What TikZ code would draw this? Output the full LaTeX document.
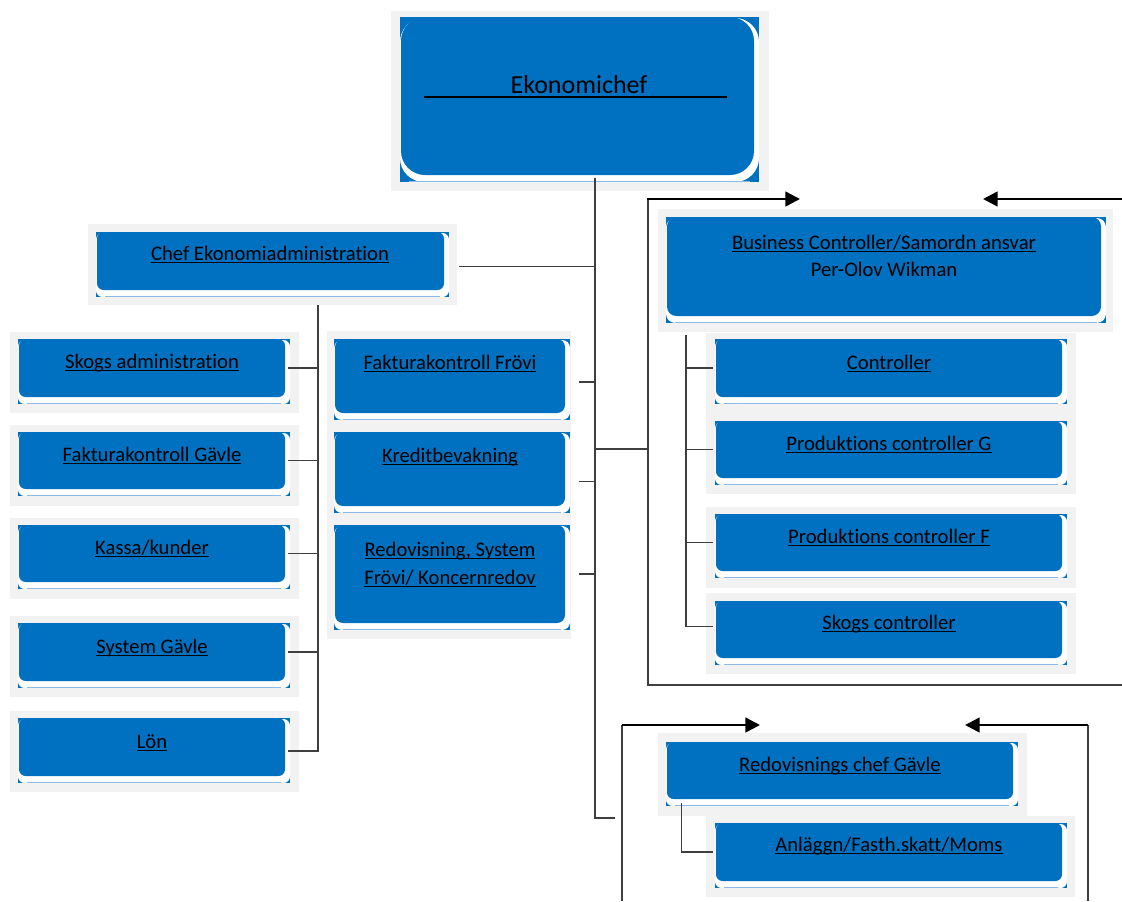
\documentclass[tikz,border=0pt]{standalone}
\usepackage{fontspec}
\setmainfont[Ligatures={NoCommon}]{Carlito}
\usetikzlibrary{arrows.meta,fit}
\definecolor{boxblue}{HTML}{0070C0}
\definecolor{rimblue}{HTML}{8DB9E2}
\definecolor{panelgray}{HTML}{F2F2F2}
\definecolor{linkgray}{HTML}{3F3F3F}
\newcommand{\ulin}[1]{\setbox0=\hbox{#1}\rlap{\rule[-2.4pt]{\wd0}{1pt}}\box0}
% blue unit with its white rim: [radius]{name}{x1}{y1}{x2}{y2}
\newcommand{\unitbox}[6][5pt]{%
  \fill[boxblue] (#3-1,#4) rectangle (#5+5,#6+7);
  \fill[white,rounded corners=#1] (#3-1,#4+1) rectangle (#5+5,#6+7);
  \draw[rimblue,line width=0.6pt] (#3+8,#6+6.5) -- (#5-4,#6+6.5);
  \node[unit,rounded corners=#1,fit={(#3,#4) (#5,#6)}] (#2) {};}
\tikzset{
  unit/.style={fill=boxblue,draw=none,inner sep=0pt},
  panel/.style={fill=panelgray},
  lbl/.style={font=\fontsize{15.5}{19}\selectfont,inner sep=0pt,anchor=base},
  link/.style={draw=linkgray,line width=0.8pt},
  frameline/.style={draw=linkgray,line width=1pt},
  flow/.style={line width=1.9pt,-{Triangle[length=11pt,width=11pt]}}
}
\begin{document}
\begin{tikzpicture}[x=0.75pt,y=-0.75pt]
\useasboundingbox (0,0) rectangle (1122,901);

\fill[panel] (391,11) rectangle (769,191);
\fill[panel] (88,224) rectangle (457,305);
\fill[panel] (10,332) rectangle (299,413);
\fill[panel] (10,425) rectangle (299,506);
\fill[panel] (10,518) rectangle (299,599);
\fill[panel] (10,616) rectangle (299,697);
\fill[panel] (10,711) rectangle (299,792);
\fill[panel] (327,331) rectangle (571,639);
\fill[panel] (658,209) rectangle (1113,332);
\fill[panel] (706,333) rectangle (1076,494);
\fill[panel] (706,507) rectangle (1076,588);
\fill[panel] (706,593) rectangle (1076,674);
\fill[panel] (658,733) rectangle (1027,816);
\fill[panel] (706,816) rectangle (1075,897);

\unitbox[18pt]{ekon}{401}{17}{754}{175}
\unitbox{cea}{97}{232}{444}{290}
\unitbox{skad}{19}{339}{285}{397}
\unitbox{fkg}{19}{432}{285}{489}
\unitbox{kass}{19}{525}{285}{582}
\unitbox{sysg}{19}{623}{285}{681}
\unitbox{lon}{19}{718}{285}{776}
\unitbox[6pt]{fkf}{335}{339}{565}{413}
\unitbox[6pt]{kred}{335}{432}{565}{506}
\unitbox[6pt]{redo}{335}{525}{565}{623}
\unitbox[7pt]{bc}{667}{217}{1101}{316}
\unitbox{ctrl}{716}{339}{1062}{397}
\unitbox{prodg}{716}{421}{1062}{478}
\unitbox{prodf}{716}{514}{1062}{571}
\unitbox{skogc}{716}{601}{1062}{658}
\unitbox{rcg}{667}{742}{1013}{799}
\unitbox{anl}{716}{823}{1062}{881}

\node[lbl,font=\fontsize{19.5}{23}\selectfont] (ekon-t) at (579,93) {Ekonomichef};
\draw[line width=1.5pt] (424,97) -- (727,97);
\node[lbl] (cea-t) at (270,260) {\ulin{Chef Ekonomiadministration}};
\node[lbl] (skad-t) at (152,368) {\ulin{Skogs administration}};
\node[lbl] (fkg-t) at (152,461) {\ulin{Fakturakontroll Gävle}};
\node[lbl] (kass-t) at (152,554) {\ulin{Kassa/kunder}};
\node[lbl] (sysg-t) at (152,653) {\ulin{System Gävle}};
\node[lbl] (lon-t) at (152,748) {\ulin{Lön}};
\node[lbl] (fkf-t) at (450,369) {\ulin{Fakturakontroll Frövi}};
\node[lbl] (kred-t) at (450,462) {\ulin{Kreditbevakning}};
\node[lbl] (redo-t1) at (450,556) {\ulin{Redovisning, System}};
\node[lbl] (redo-t2) at (450,584) {\ulin{Frövi/ Koncernredov}};
\node[lbl] (bc-t1) at (884,249) {\ulin{Business Controller/Samordn ansvar}};
\node[lbl] (bc-t2) at (884,276) {Per-Olov Wikman};
\node[lbl] (ctrl-t) at (889,369) {\ulin{Controller}};
\node[lbl] (prodg-t) at (889,450) {\ulin{Produktions controller G}};
\node[lbl] (prodf-t) at (889,543) {\ulin{Produktions controller F}};
\node[lbl] (skogc-t) at (889,629) {\ulin{Skogs controller}};
\node[lbl] (rcg-t) at (840,771) {\ulin{Redovisnings chef Gävle}};
\node[lbl] (anl-t) at (889,851) {\ulin{Anläggn/Fasth.skatt/Moms}};

\coordinate (spinetop) at (595,178);
\coordinate (spinebot) at (595,818);
\coordinate (rcgstub) at (615,818);
\coordinate (abus) at (318,305);
\coordinate (cbus) at (686,335);
\coordinate (jbc) at (595,449);
\coordinate (bcl) at (648,199);
\coordinate (bcr) at (1122,199);
\coordinate (bcla) at (800,199);
\coordinate (bcra) at (983,199);
\coordinate (bcbl) at (648,685);
\coordinate (bcbr) at (1122,685);
\coordinate (rfl) at (622,725);
\coordinate (rfr) at (1088,725);
\coordinate (rfla) at (760,725);
\coordinate (rfra) at (965,725);
\coordinate (rflb) at (622,901);
\coordinate (rfrb) at (1088,901);

\draw[link] (spinetop) -- (spinebot) -- (rcgstub);
\draw[link] ([xshift=11pt,yshift=-4pt]cea.east) coordinate (t) -- (t -| spinetop);
\draw[link] ([xshift=10pt,yshift=-4.5pt]fkf.east) coordinate (t) -- (t -| spinetop);
\draw[link] ([xshift=10pt,yshift=-9.5pt]kred.east) coordinate (t) -- (t -| spinetop);
\draw[link] ([xshift=10pt]redo.east) coordinate (t) -- (t -| spinetop);

\draw[link] (abus) |- ([xshift=2pt,yshift=-3pt]lon.east);
\foreach \n in {skad,fkg,kass,sysg}
  \draw[link] ([xshift=2pt]\n.east) -- (\n.east -| abus);

\draw[link] (jbc) -- (jbc -| bcl);
\draw[frameline] (bcl) -- (bcbl) -- (bcbr);
\draw[flow] ([xshift=-0.75pt]bcl) -- (bcla);
\draw[flow] (bcr) -- (bcra);

\draw[link] (cbus) |- ([xshift=-2pt,yshift=2pt]skogc.west);
\foreach \n in {ctrl,prodg,prodf}
  \draw[link] ([xshift=-2pt]\n.west) -- (\n.west -| cbus);

\draw[frameline] (rfl) -- (rflb);
\draw[frameline] (rfr) -- (rfrb);
\draw[flow] (rfl) -- (rfla);
\draw[flow] (rfr) -- (rfra);
\draw[link] ([xshift=11pt,yshift=-3pt]rcg.south west) |- ([xshift=-2pt]anl.west);
\end{tikzpicture}
\end{document}
